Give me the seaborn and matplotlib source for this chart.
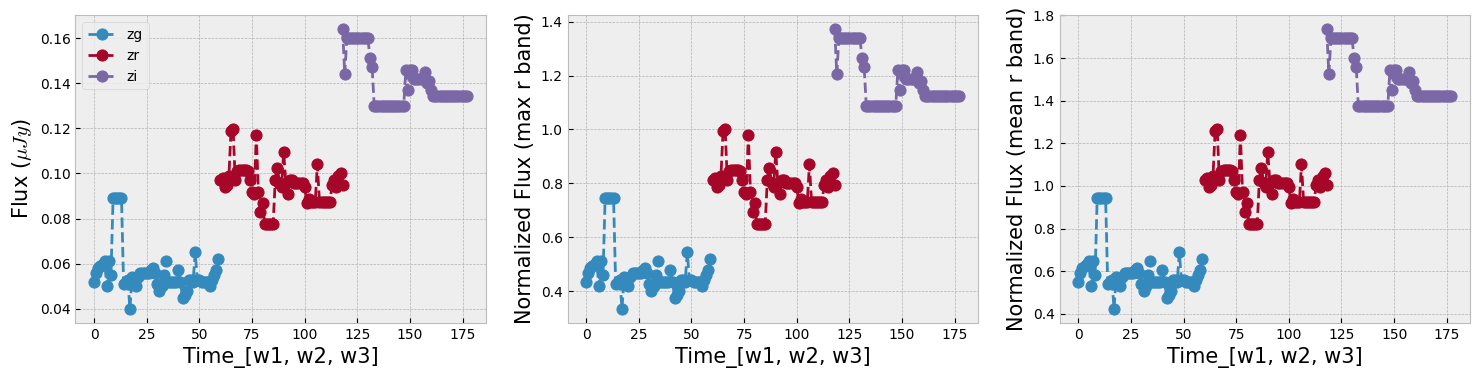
import numpy as np
import pandas as pd
import seaborn as sns
import matplotlib
matplotlib.use("Agg")
import matplotlib.pyplot as plt

# flux values, one list per band
zg_time = list(range(0, 60))
zg_flux = [0.052, 0.056, 0.058, 0.059, 0.060, 0.061, 0.050, 0.061, 0.055, 0.089,
           0.089, 0.089, 0.089, 0.089, 0.051, 0.052, 0.053, 0.040, 0.054, 0.052,
           0.050, 0.054, 0.056, 0.056, 0.056, 0.056, 0.056, 0.057, 0.058, 0.056,
           0.051, 0.048, 0.050, 0.055, 0.061, 0.052, 0.052, 0.052, 0.052, 0.052,
           0.057, 0.052, 0.045, 0.046, 0.048, 0.053, 0.053, 0.052, 0.065, 0.053,
           0.053, 0.052, 0.052, 0.052, 0.052, 0.050, 0.053, 0.055, 0.057, 0.062]

zr_time = list(range(60, 119))
zr_flux = [0.097, 0.098, 0.094, 0.095, 0.099, 0.119, 0.1195, 0.097, 0.101, 0.1015,
           0.1015, 0.1015, 0.1015, 0.101, 0.097, 0.092, 0.091, 0.117, 0.092, 0.083,
           0.087, 0.0775, 0.0775, 0.0775, 0.0775, 0.0775, 0.097, 0.1025, 0.096, 0.094,
           0.1095, 0.096, 0.091, 0.097, 0.097, 0.096, 0.096, 0.096, 0.096, 0.096,
           0.094, 0.087, 0.0885, 0.0875, 0.0875, 0.0875, 0.104, 0.0875, 0.0875, 0.0875,
           0.0875, 0.0875, 0.0875, 0.095, 0.097, 0.094, 0.099, 0.100, 0.095]

zi_time = list(range(118, 178))
zi_flux = [0.164, 0.144, 0.160, 0.160, 0.160, 0.160, 0.160, 0.160, 0.160, 0.160,
           0.160, 0.160, 0.160, 0.151, 0.147, 0.130, 0.130, 0.130, 0.130, 0.130,
           0.130, 0.130, 0.130, 0.130, 0.130, 0.130, 0.130, 0.130, 0.130, 0.130,
           0.146, 0.137, 0.146, 0.146, 0.142, 0.142, 0.142, 0.142, 0.142, 0.145,
           0.140, 0.141, 0.137, 0.1345, 0.1345, 0.1345, 0.1345, 0.1345, 0.1345, 0.1345,
           0.1345, 0.1345, 0.1345, 0.1345, 0.1345, 0.1345, 0.1345, 0.1345, 0.1345, 0.1345]

bands = ["zg", "zr", "zi"]
times = [zg_time, zr_time, zi_time]
fluxes = [zg_flux, zr_flux, zi_flux]
ylabels = [r"Flux ($\mu Jy$)", "Normalized Flux (max r band)", "Normalized Flux (mean r band)"]

plt.style.use("bmh")
colors = plt.rcParams["axes.prop_cycle"].by_key()["color"][:3]

r_max = np.max(zr_flux)
r_mean = np.mean(zr_flux)
norms = [1.0, r_max, r_mean]

fig, axes = plt.subplots(1, 3, figsize=(14.8, 3.78), dpi=100)
fig.subplots_adjust(left=0.051, right=0.993, bottom=0.146, top=0.96, wspace=0.2)

for ax, norm, ylab in zip(axes, norms, ylabels):
    for band, t, f, c in zip(bands, times, fluxes, colors):
        df = pd.DataFrame({"time": t, "flux": np.array(f) / norm})
        sns.lineplot(data=df, x="time", y="flux", ax=ax, color=c, marker="o",
                     linestyle="--", markersize=8, markeredgecolor=c,
                     linewidth=2, label=band)
    ax.set_xlabel("Time_[w1, w2, w3]", fontsize=15)
    ax.set_ylabel(ylab, fontsize=15)
    ax.tick_params(labelsize=10)
    if ax is axes[0]:
        ax.legend(loc="upper left", fontsize=10)
    else:
        ax.get_legend().remove()

fig.savefig("out.png", dpi=100)
